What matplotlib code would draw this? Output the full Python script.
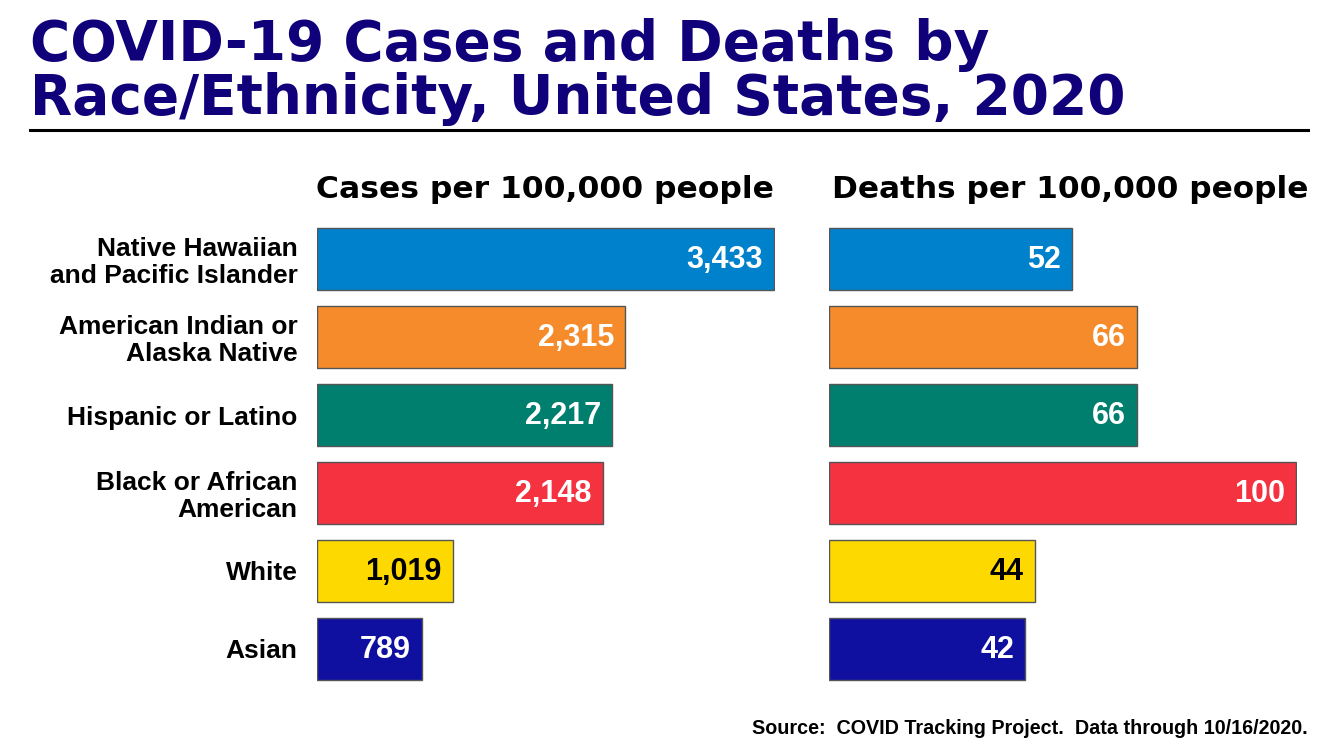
import numpy as np
import matplotlib.pyplot as plt

# data
groups = ["Native Hawaiian\nand Pacific Islander",
          "American Indian or\nAlaska Native",
          "Hispanic or Latino",
          "Black or African\nAmerican",
          "White",
          "Asian"]
cases = [3433, 2315, 2217, 2148, 1019, 789]
deaths = [52, 66, 66, 100, 44, 42]
colors = ["#0081cc", "#f58b2a", "#007f6e", "#f43240", "#fdd900", "#0f10a0"]
text_colors = ["white", "white", "white", "white", "black", "white"]

navy = "#10007a"
W, H = 1342, 753
fig = plt.figure(figsize=(W / 100, H / 100), dpi=100)

plt.rcParams['font.family'] = ['Liberation Sans', 'DejaVu Sans']

# title
fig.text(30 / W, 1 - 45 / H, "COVID-19 Cases and Deaths by", fontsize=39.5,
         fontweight='bold', color=navy, va='center', ha='left', family='DejaVu Sans')
fig.text(30 / W, 1 - 99 / H, "Race/Ethnicity, United States, 2020", fontsize=39.5,
         fontweight='bold', color=navy, va='center', ha='left', family='DejaVu Sans')
fig.add_artist(plt.Line2D([30 / W, 1308 / W], [1 - 130 / H, 1 - 130 / H],
                          color='black', lw=2.2))

bottom = 1 - 688 / H
height = 468 / H
ax1 = fig.add_axes([317 / W, bottom, 458 / W, height])
ax2 = fig.add_axes([829 / W, bottom, 468 / W, height])

y = np.arange(len(groups))


def panel(ax, vals, xmax, fmt):
    ax.barh(y, vals, height=0.8, color=colors, edgecolor='#555555', linewidth=1)
    ax.set_xlim(0, xmax)
    ax.set_ylim(len(groups) - 0.5, -0.5)
    for s in ax.spines.values():
        s.set_visible(False)
    ax.set_xticks([])
    for i, v in enumerate(vals):
        ax.annotate(fmt.format(v), (v, i), xytext=(-8, -1), textcoords='offset points',
                    ha='right', va='center', fontsize=22, fontweight='bold',
                    color=text_colors[i])


panel(ax1, cases, 3440, "{:,}")
panel(ax2, deaths, 100.2, "{}")

ax1.set_yticks(y)
ax1.set_yticklabels(groups, fontsize=19, fontweight='bold', linespacing=1.15)
ax1.tick_params(axis='y', length=0, pad=14)
ax2.set_yticks([])

fig.text(545 / W, 1 - 190 / H, "Cases per 100,000 people", fontsize=22.6,
         fontweight='bold', ha='center', va='center', family='DejaVu Sans')
fig.text(1070 / W, 1 - 190 / H, "Deaths per 100,000 people", fontsize=22.4,
         fontweight='bold', ha='center', va='center', family='DejaVu Sans')

fig.text(1308 / W, 1 - 729 / H, "Source:  COVID Tracking Project.  Data through 10/16/2020.",
         fontsize=14.2, fontweight='bold', ha='right', va='center')

fig.savefig("out.png", dpi=100)
